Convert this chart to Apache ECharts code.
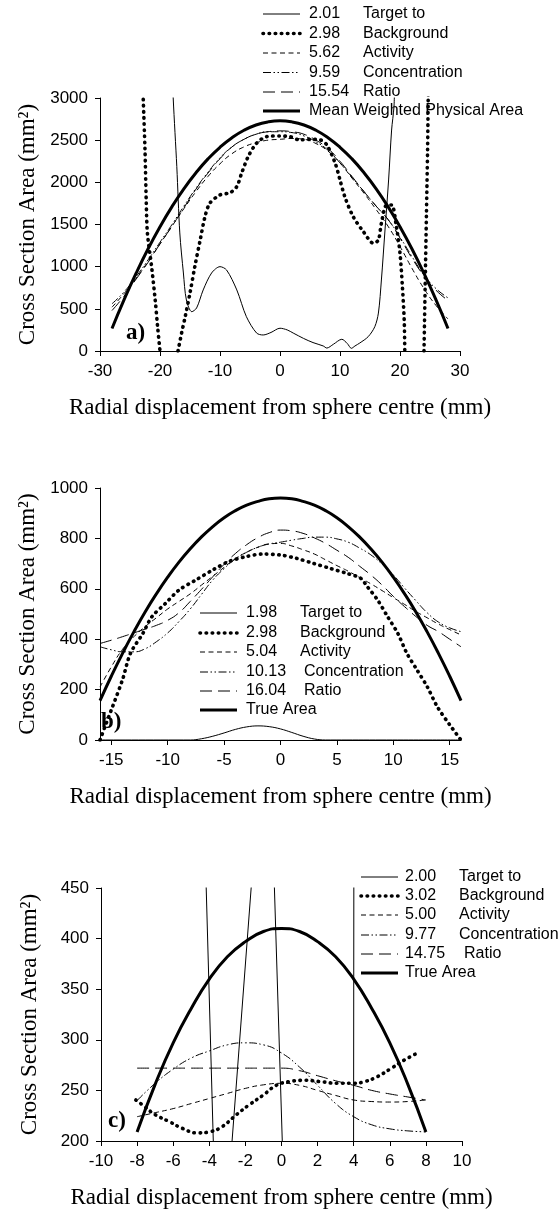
<!DOCTYPE html>
<html>
<head>
<meta charset="utf-8">
<script src="https://cdn.jsdelivr.net/npm/echarts@6/dist/echarts.min.js"></script>
<style>
html,body{margin:0;padding:0;background:#fff;}
#chart{width:559px;height:1211px;}
</style>
</head>
<body>
<div id="chart"></div>
<script>
// ---------- Panel a ----------
const A_X = [-28,-26,-24,-22,-20,-18,-16,-14,-12,-10,-8,-6,-4,-2,0,2,4,6,8,10,12,14,16,18,20,22,24,26,28];
const A_MEAN = [267,606,920,1210,1473,1712,1926,2114,2278,2416,2529,2617,2680,2717,2730,2717,2680,2617,2529,2416,2278,2114,1926,1712,1473,1210,920,606,267];
const A_ACT = [520,680,860,1060,1270,1480,1690,1890,2070,2220,2340,2420,2470,2500,2510,2520,2510,2460,2370,2230,2050,1870,1680,1480,1240,980,740,540,380];
const A_CONC = [560,700,880,1080,1290,1500,1720,1930,2120,2290,2420,2510,2570,2600,2600,2590,2550,2480,2380,2230,2060,1890,1720,1560,1350,1120,900,740,630];
const A_RATIO = [480,650,850,1050,1270,1480,1700,1920,2110,2280,2420,2510,2570,2600,2610,2600,2570,2500,2400,2250,2070,1890,1720,1560,1340,1100,890,720,600];
const A_TGT_X = [-17.85,-17.8,-17.2,-16.7,-16.1,-15.6,-14.7,-13.9,-12.8,-11.4,-10,-8.9,-7.2,-5.6,-3.9,-2.8,-1.5,0,1.2,2.2,3.9,5.5,7.2,7.8,8.9,10.3,11.2,11.9,12.5,13.3,14.7,15.8,16.4,16.9,17.5,18.1,18.6,19,19.1];
const A_TGT_Y = [3200,3000,2186,1400,925,605,466,510,724,925,1000,960,724,407,213,190,220,270,250,213,150,100,60,35,80,139,90,32,60,95,170,288,450,842,1435,2028,2620,2900,3200];
const A_BG_X = [-22.9,-22.8,-22.5,-22.3,-22.1,-21.4,-20.8,-20.4,-20.0,-18.5,-17,-16.4,-15.8,-15,-14.2,-13.3,-12.5,-11.7,-10,-8.3,-7.2,-6.4,-5.3,-3.9,-2.2,0,1.7,3.3,5,6.7,7.8,9.2,10,10.8,12.2,13.9,15.6,16.4,16.9,17.8,18.6,19.4,20,20.4,20.7,20.8,22.5,24.0,24.2,24.4,24.6,24.7,24.75];
const A_BG_Y = [3200,3000,2384,1791,1400,1000,605,288,0,null,0,213,407,688,1000,1317,1593,1752,1850,1878,1950,2108,2305,2464,2542,2550,2540,2503,2510,2503,2444,2226,2028,1830,1593,1415,1277,1317,1515,1732,1732,1475,1159,763,368,0,null,0,800,1600,2400,3000,3200];
const A_NUMS = ['2.01','2.98','5.62','9.59','15.54'];
const A_LAST = 'Mean Weighted Physical Area';

// ---------- Panel b ----------
const B_X = [-16,-15,-14,-13,-12,-11,-10,-9,-8,-7,-6,-5,-4,-3,-2,-1,0,1,2,3,4,5,6,7,8,9,10,11,12,13,14,15,16];
const B_TRUE = [156,253,344,429,508,580,646,706,759,806,847,882,910,932,947,957,960,957,947,932,910,882,847,806,759,706,646,580,508,429,344,253,156];
const B_ACT = [210,290,360,410,450,485,520,550,580,615,650,685,720,745,765,778,780,770,755,738,715,692,670,645,620,593,565,538,510,485,460,438,417];
const B_CONC = [370,358,350,350,362,390,425,470,520,578,635,680,718,745,765,778,785,793,800,805,805,798,785,762,735,698,655,603,553,505,468,445,430];
const B_RATIO = [383,396,410,425,440,455,475,505,550,598,648,697,740,775,803,823,833,830,820,802,780,753,725,690,655,615,570,529,490,455,430,400,370];
const B_BG_X = [-16,-15.5,-15,-14,-13.3,-12.2,-11.4,-10.2,-9,-7.5,-6,-4.6,-3.1,-1.6,0,1.4,2.9,4.4,5.9,7.1,7.7,8.6,9.5,10.4,11.2,12.1,13,13.9,15,16];
const B_BG_Y = [0,60,119,240,344,423,489,542,595,635,675,708,727,738,734,721,701,681,661,642,608,556,489,423,344,278,212,132,60,0];
const B_TGT_X = [-16,-8,-7,-6,-5,-4,-3,-2,-1,0,1,2,3,4,16];
const B_TGT_Y = [0,0,5,15,28,42,52,56,53,44,30,15,4,0,0];
const B_TICKS = [-15,-10,-5,0,5,10,15];
const B_NUMS = ['1.98','2.98','5.04','10.13','16.04'];
const B_LAST = 'True Area';

// ---------- Panel c ----------
const C_X = [-8,-7,-6,-5,-4,-3,-2,-1,0,1,2,3,4,5,6,7,8];
const C_TRUE = [209,256,297,331,360,382,397,407,410,407,397,382,360,331,297,256,209];
const C_ACT = [224,228,232,237,242,247,252,255.5,257,255,250,245,240.5,239,238.5,239,240.5];
const C_CONC = [240,257,271,282,289,295,297,295,287,273,255,237,224,216,212,210,209];
const C_RATIO = [272,272,272,272,272,272,272,272,272,269.5,264.5,259.5,255,250,246.5,243.5,240.5];
const C_BG_X = [-8.07,-7.7,-7,-6.2,-5.5,-4.7,-4,-3.3,-2.5,-1.8,-1,-0.3,0.4,1.3,2.2,3.1,4,4.6,5.3,6.1,6.8,7.5];
const C_BG_Y = [240.5,235.6,226,219,212.5,208,209,214,226,235.6,245.5,255,258.6,260,258.6,257,257,258.6,263.5,272,280,286.6];
const C_TGT_X = [-4.25,-3.7,-2.95,-1.47,-0.48,0.13,3.99,4.01];
const C_TGT_Y = [500,150,150,500,500,150,150,500];
const C_NUMS = ['2.00','3.02','5.00','9.77','14.75'];
const C_LAST = 'True Area';

const WORDS = ['Target to','Background','Activity','Concentration','Ratio'];

// ---------- styles ----------
const SANS = "'Liberation Sans', Arial, sans-serif";
const SERIF = "'Liberation Serif', 'Times New Roman', serif";
const ST = {
  tgt:   {color:'#000', width:1, type:'solid'},
  bg:    {color:'#000', width:3.6, type:[0.5,5.6], cap:'round'},
  act:   {color:'#000', width:1, type:[5,3.5]},
  conc:  {color:'#000', width:1, type:[8,2.5,1.5,2.5,1.5,2.5]},
  ratio: {color:'#000', width:1, type:[12,6]},
  thick: {color:'#000', width:3, type:'solid'}
};
const ORDER = ['tgt','bg','act','conc','ratio','thick'];

function zipXY(xs, ys){ return xs.map((x,i)=>[x, ys[i]==null ? '-' : ys[i]]); }

function mkSeries(name, gi, data, st, smooth){
  return {
    type:'line', name:name, xAxisIndex:gi, yAxisIndex:gi, data:data,
    showSymbol:false, symbol:'none', smooth: smooth,
    connectNulls:false, clip:true, animation:false, silent:true,
    lineStyle:{color:st.color, width:st.width, type:st.type, cap:st.cap||'butt'}
  };
}

const series = [
  // a
  mkSeries('2.01', 0, zipXY(A_TGT_X, A_TGT_Y), ST.tgt, 0.3),
  mkSeries('2.98', 0, zipXY(A_BG_X, A_BG_Y), ST.bg, 0.3),
  mkSeries('5.62', 0, zipXY(A_X, A_ACT), ST.act, 0.5),
  mkSeries('9.59', 0, zipXY(A_X, A_CONC), ST.conc, 0.5),
  mkSeries('15.54', 0, zipXY(A_X, A_RATIO), ST.ratio, 0.5),
  mkSeries(A_LAST, 0, zipXY(A_X, A_MEAN), ST.thick, 0.5),
  // b
  mkSeries('1.98', 1, zipXY(B_TGT_X, B_TGT_Y), ST.tgt, 0.4),
  mkSeries('2.98 ', 1, zipXY(B_BG_X, B_BG_Y), ST.bg, 0.3),
  mkSeries('5.04', 1, zipXY(B_X, B_ACT), ST.act, 0.5),
  mkSeries('10.13', 1, zipXY(B_X, B_CONC), ST.conc, 0.5),
  mkSeries('16.04', 1, zipXY(B_X, B_RATIO), ST.ratio, 0.5),
  mkSeries(B_LAST, 1, zipXY(B_X, B_TRUE), ST.thick, 0.5),
  // c
  mkSeries('2.00', 2, zipXY(C_TGT_X, C_TGT_Y), ST.tgt, false),
  mkSeries('3.02', 2, zipXY(C_BG_X, C_BG_Y), ST.bg, 0.4),
  mkSeries('5.00', 2, zipXY(C_X, C_ACT), ST.act, 0.5),
  mkSeries('9.77', 2, zipXY(C_X, C_CONC), ST.conc, 0.5),
  mkSeries('14.75', 2, zipXY(C_X, C_RATIO), ST.ratio, 0.5),
  mkSeries(C_LAST + ' ', 2, zipXY(C_X, C_TRUE), ST.thick, 0.5)
];

// ---------- legends (drawn as graphic) ----------
function legendBlock(x1, x2, xNum, xWords, rows, nums, last){
  const els = [];
  ORDER.forEach((k, i)=>{
    const st = ST[k];
    els.push({type:'line', silent:true,
      shape:{x1:x1, y1:rows[i], x2:x2, y2:rows[i]},
      style:{stroke:'#000', lineWidth:st.width, lineDash: Array.isArray(st.type)?st.type:null, lineCap: st.cap||'butt'}});
    const label = i < 5 ? nums[i] : last;
    els.push({type:'text', silent:true, x:xNum, y:rows[i],
      style:{text:label, font:'16px ' + SANS, fill:'#000', textVerticalAlign:'middle', verticalAlign:'middle'}});
    if (i < 5) {
      els.push({type:'text', silent:true, x:xWords[i], y:rows[i],
        style:{text:WORDS[i], font:'16px ' + SANS, fill:'#000', textVerticalAlign:'middle', verticalAlign:'middle'}});
    }
  });
  return els;
}

const graphics = [].concat(
  legendBlock(263, 300, 309, [363,363,363,363,363], [14,33.5,53,72.5,92,111], A_NUMS, A_LAST),
  legendBlock(200, 237, 246, [300,300,300,304,304], [613,633,652,672,691,710], B_NUMS, B_LAST),
  legendBlock(361, 398, 405, [459,459,459,459,464], [877,896,915,935,954,973], C_NUMS, C_LAST),
  [
    {type:'text', silent:true, x:126, y:345, style:{text:'a)', font:'bold 23px ' + SERIF, fill:'#000', textVerticalAlign:'bottom', verticalAlign:'bottom'}},
    {type:'text', silent:true, x:101, y:734, style:{text:'b)', font:'bold 23px ' + SERIF, fill:'#000', textVerticalAlign:'bottom', verticalAlign:'bottom'}},
    {type:'text', silent:true, x:108, y:1133, style:{text:'c)', font:'bold 23px ' + SERIF, fill:'#000', textVerticalAlign:'bottom', verticalAlign:'bottom'}}
  ]
);

// ---------- axes ----------
const XNAME = 'Radial displacement from sphere centre (mm)';
const YNAME = 'Cross Section Area (mm²)';
function plain(v){ return String(v); }
function xAx(gi, min, max, interval, ticks){
  const ax = {
    type:'value', gridIndex:gi, min:min, max:max,
    name:XNAME, nameLocation:'middle', nameGap:45,
    nameTextStyle:{fontFamily:SERIF, fontSize:23, color:'#000'},
    axisLine:{show:true, onZero:false, lineStyle:{color:'#000', width:1}},
    axisTick:{show:true, length:5, lineStyle:{color:'#000'}},
    axisLabel:{fontFamily:SANS, fontSize:17, color:'#000', margin:12, formatter:plain},
    splitLine:{show:false}
  };
  if (ticks) {
    ax.axisLabel.customValues = ticks;
    ax.axisTick.customValues = ticks;
  } else {
    ax.interval = interval;
  }
  return ax;
}
function yAx(gi, min, max, interval){
  return {
    type:'value', gridIndex:gi, min:min, max:max, interval:interval,
    name:YNAME, nameLocation:'middle', nameGap:60, nameRotate:90,
    nameTextStyle:{fontFamily:SERIF, fontSize:23, color:'#000'},
    axisLine:{show:true, onZero:false, lineStyle:{color:'#000', width:1}},
    axisTick:{show:true, length:5, lineStyle:{color:'#000'}},
    axisLabel:{fontFamily:SANS, fontSize:17, color:'#000', margin:12, formatter:plain},
    splitLine:{show:false}
  };
}

const option = {
  backgroundColor:'#fff',
  animation:false,
  grid:[
    {left:100, top:98, width:360, height:253},
    {left:100, top:488, width:361, height:252},
    {left:101, top:888, width:361, height:253}
  ],
  xAxis:[
    xAx(0, -30, 30, 10),
    xAx(1, -16, 16, null, B_TICKS),
    xAx(2, -10, 10, 2)
  ],
  yAxis:[
    yAx(0, 0, 3000, 500),
    yAx(1, 0, 1000, 200),
    yAx(2, 200, 450, 50)
  ],
  series: series,
  graphic: graphics
};

const chart = echarts.init(document.getElementById('chart'), null, {renderer:'canvas'});
chart.setOption(option);
</script>
</body>
</html>
